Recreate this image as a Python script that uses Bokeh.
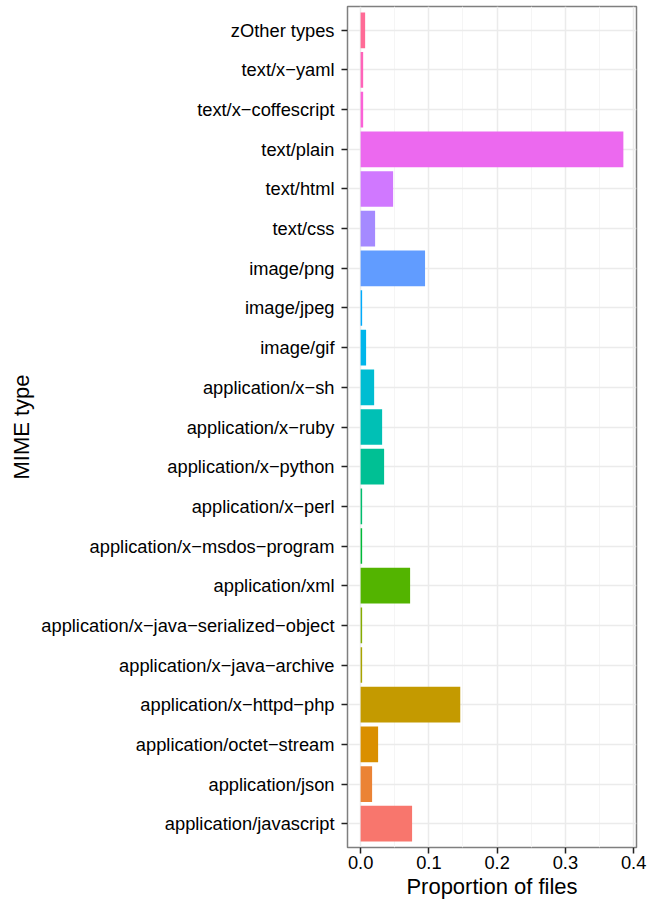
import math
from bokeh.plotting import figure
from bokeh.models import FixedTicker, Range1d, ColumnDataSource, Title
from bokeh.embed import file_html
from bokeh.resources import INLINE

# categories, bottom to top (ggplot factor order)
categories = [
    "application/javascript",
    "application/json",
    "application/octet\u2212stream",
    "application/x\u2212httpd\u2212php",
    "application/x\u2212java\u2212archive",
    "application/x\u2212java\u2212serialized\u2212object",
    "application/xml",
    "application/x\u2212msdos\u2212program",
    "application/x\u2212perl",
    "application/x\u2212python",
    "application/x\u2212ruby",
    "application/x\u2212sh",
    "image/gif",
    "image/jpeg",
    "image/png",
    "text/css",
    "text/html",
    "text/plain",
    "text/x\u2212coffescript",
    "text/x\u2212yaml",
    "zOther types",
]
proportions = [
    0.0754, 0.0168, 0.0256, 0.1460, 0.0022, 0.0022, 0.0725, 0.0022, 0.0022,
    0.0344, 0.0315, 0.0198, 0.0080, 0.0022, 0.0944, 0.0212, 0.0476, 0.3850,
    0.0037, 0.0037, 0.0066,
]
x_ticks = [0.0, 0.1, 0.2, 0.3, 0.4]
x_minor = [0.05, 0.15, 0.25, 0.35]
x_tick_labels = ["0.0", "0.1", "0.2", "0.3", "0.4"]
x_title = "Proportion of files"
y_title = "MIME type"


def hcl_hex(h, c=100.0, l=65.0):
    WY, Wu, Wv = 100.0, 0.1978398, 0.4683363
    hr = math.radians(h)
    U, V = c * math.cos(hr), c * math.sin(hr)
    Y = WY * (((l + 16) / 116) ** 3 if l > 7.999592 else l / 903.3)
    u = U / (13 * l) + Wu
    v = V / (13 * l) + Wv
    X = 9.0 * Y * u / (4 * v)
    Z = -X / 3 - 5 * Y + 3 * Y / v

    def g(t):
        return 1.055 * t ** (1 / 2.4) - 0.055 if t > 0.00304 else 12.92 * t

    rgb = [
        g((3.240479 * X - 1.537150 * Y - 0.498535 * Z) / WY),
        g((-0.969256 * X + 1.875992 * Y + 0.041556 * Z) / WY),
        g((0.055648 * X - 0.204043 * Y + 1.057311 * Z) / WY),
    ]
    rgb = [min(1.0, max(0.0, t)) for t in rgb]
    return "#%02X%02X%02X" % tuple(int(round(t * 255)) for t in rgb)


n = len(categories)
colors = [hcl_hex(15 + i * 360.0 / n) for i in range(n)]
ypos = list(range(1, n + 1))

src = ColumnDataSource(dict(y=ypos, right=proportions, color=colors))

xmax = max(proportions)
p = figure(
    width=659, height=904, output_backend="svg", toolbar_location=None,
    x_range=Range1d(-0.05 * xmax, xmax * 1.05),
    y_range=Range1d(0.4, n + 0.6),
    min_border_left=347, min_border_right=23, min_border_top=6, min_border_bottom=57,
)
p.background_fill_color = "white"
p.border_fill_color = "white"
p.outline_line_color = "#7F7F7F"
p.outline_line_width = 1.5

p.hbar(y="y", left=0, right="right", height=0.9, fill_color="color",
       line_color=None, source=src)

p.xaxis.ticker = FixedTicker(ticks=x_ticks, minor_ticks=x_minor)
p.xaxis.major_label_overrides = {t: lab for t, lab in zip(x_ticks, x_tick_labels)}
p.yaxis.ticker = FixedTicker(ticks=ypos)
p.yaxis.major_label_overrides = {i: c for i, c in zip(ypos, categories)}

for ax in (p.xaxis[0], p.yaxis[0]):
    ax.axis_line_color = None
    ax.major_tick_in = 0
    ax.major_tick_out = 6
    ax.major_tick_line_color = "#222222"
    ax.major_tick_line_width = 1.5
    ax.minor_tick_line_color = None
    ax.major_label_text_font = "Liberation Sans"
    ax.major_label_text_font_size = "18.3px"
    ax.major_label_text_color = "black"
    ax.axis_label_text_font = "Liberation Sans"
    ax.axis_label_text_font_size = "22px"
    ax.axis_label_text_font_style = "normal"
    ax.axis_label_text_color = "black"

p.yaxis.axis_label = y_title
p.xaxis.major_label_standoff = 2
p.yaxis.major_label_standoff = 7
p.yaxis.axis_label_standoff = 4

# x-axis title as a centred title below the axis
p.add_layout(Title(
    text=x_title, align="center", text_font="Liberation Sans",
    text_font_size="22px", text_font_style="normal", text_color="black",
    standoff=0, offset=0,
), "below")

p.xgrid.grid_line_color = "#EBEBEB"
p.xgrid.grid_line_width = 1.5
p.xgrid.minor_grid_line_color = "#F5F5F5"
p.xgrid.minor_grid_line_width = 1
p.ygrid.grid_line_color = "#EBEBEB"
p.ygrid.grid_line_width = 1.5

open("out.html", "w").write(file_html(p, INLINE))
